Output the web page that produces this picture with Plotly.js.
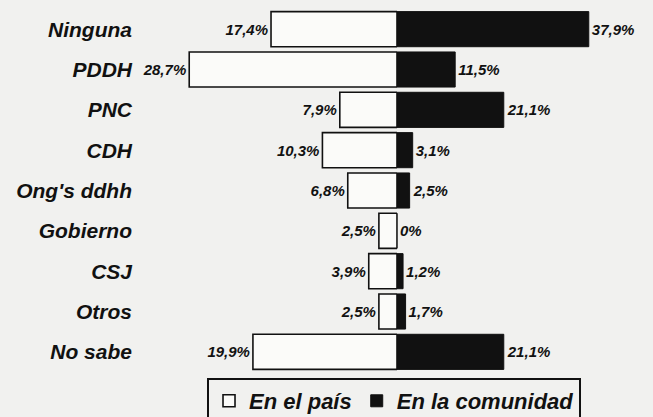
<!DOCTYPE html>
<html>
<head>
<meta charset="utf-8">
<script src="https://cdn.plot.ly/plotly-3.0.1.min.js"></script>
<style>
  html, body { margin: 0; padding: 0; background: #f1f1ef; }
  #chart { width: 653px; height: 417px; }
</style>
</head>
<body>
<div id="chart"></div>
<script>
// Data
var categories = ["Ninguna", "PDDH", "PNC", "CDH", "Ong's ddhh", "Gobierno", "CSJ", "Otros", "No sabe"];
var enElPais = [17.4, 28.7, 7.9, 10.3, 6.8, 2.5, 3.9, 2.5, 19.9];
var enLaComunidad = [37.9, 11.5, 21.1, 3.1, 2.5, 0, 1.2, 1.7, 21.1];
var seriesNames = ["En el país", "En la comunidad"];

function fmt(v) {
  return v === 0 ? "0%" : v.toFixed(1).replace(".", ",") + "%";
}

var FONT = "Liberation Sans, Arial, sans-serif";
var BG = "#f1f1ef";

var tracePais = {
  type: "bar",
  orientation: "h",
  name: seriesNames[0],
  y: categories,
  x: enElPais,
  xaxis: "x",
  yaxis: "y",
  text: enElPais.map(fmt),
  textposition: "outside",
  constraintext: "none",
  cliponaxis: false,
  textfont: { family: FONT, size: 15, weight: "bold", style: "italic", color: "#111" },
  marker: { color: "#fbfbf9", line: { color: "#111", width: 1.6 } },
  hoverinfo: "skip"
};

var traceComunidad = {
  type: "bar",
  orientation: "h",
  name: seriesNames[1],
  y: categories,
  x: enLaComunidad,
  xaxis: "x2",
  yaxis: "y",
  text: enLaComunidad.map(fmt),
  textposition: "outside",
  constraintext: "none",
  cliponaxis: false,
  textfont: { family: FONT, size: 15, weight: "bold", style: "italic", color: "#111" },
  marker: { color: "#111", line: { color: "#111", width: 1 } },
  hoverinfo: "skip"
};

var layout = {
  width: 653,
  height: 417,
  margin: { l: 135, r: 8, t: 9, b: 45, autoexpand: false },
  paper_bgcolor: BG,
  plot_bgcolor: BG,
  barmode: "overlay",
  bargap: 0.13,
  showlegend: true,
  xaxis: {
    domain: [0, 0.5137],
    range: [36.19, 0],
    visible: false,
    fixedrange: true
  },
  xaxis2: {
    domain: [0.5137, 1],
    range: [0, 49.01],
    visible: false,
    anchor: "y",
    fixedrange: true
  },
  yaxis: {
    anchor: "x",
    autorange: "reversed",
    showgrid: false,
    zeroline: false,
    showline: false,
    ticks: "",
    ticklabelstandoff: 2,
    tickfont: { family: FONT, size: 21, weight: "bold", style: "italic", color: "#111" },
    fixedrange: true
  },
  legend: {
    orientation: "h",
    x: 0.1412,
    xanchor: "left",
    y: -0.0165,
    yanchor: "top",
    traceorder: "normal",
    bgcolor: BG,
    bordercolor: "#111",
    borderwidth: 2,
    itemwidth: 30,
    font: { family: FONT, size: 22, weight: "bold", style: "italic", color: "#111" }
  }
};

Plotly.newPlot("chart", [tracePais, traceComunidad], layout, { displayModeBar: false, staticPlot: true });
</script>
</body>
</html>
